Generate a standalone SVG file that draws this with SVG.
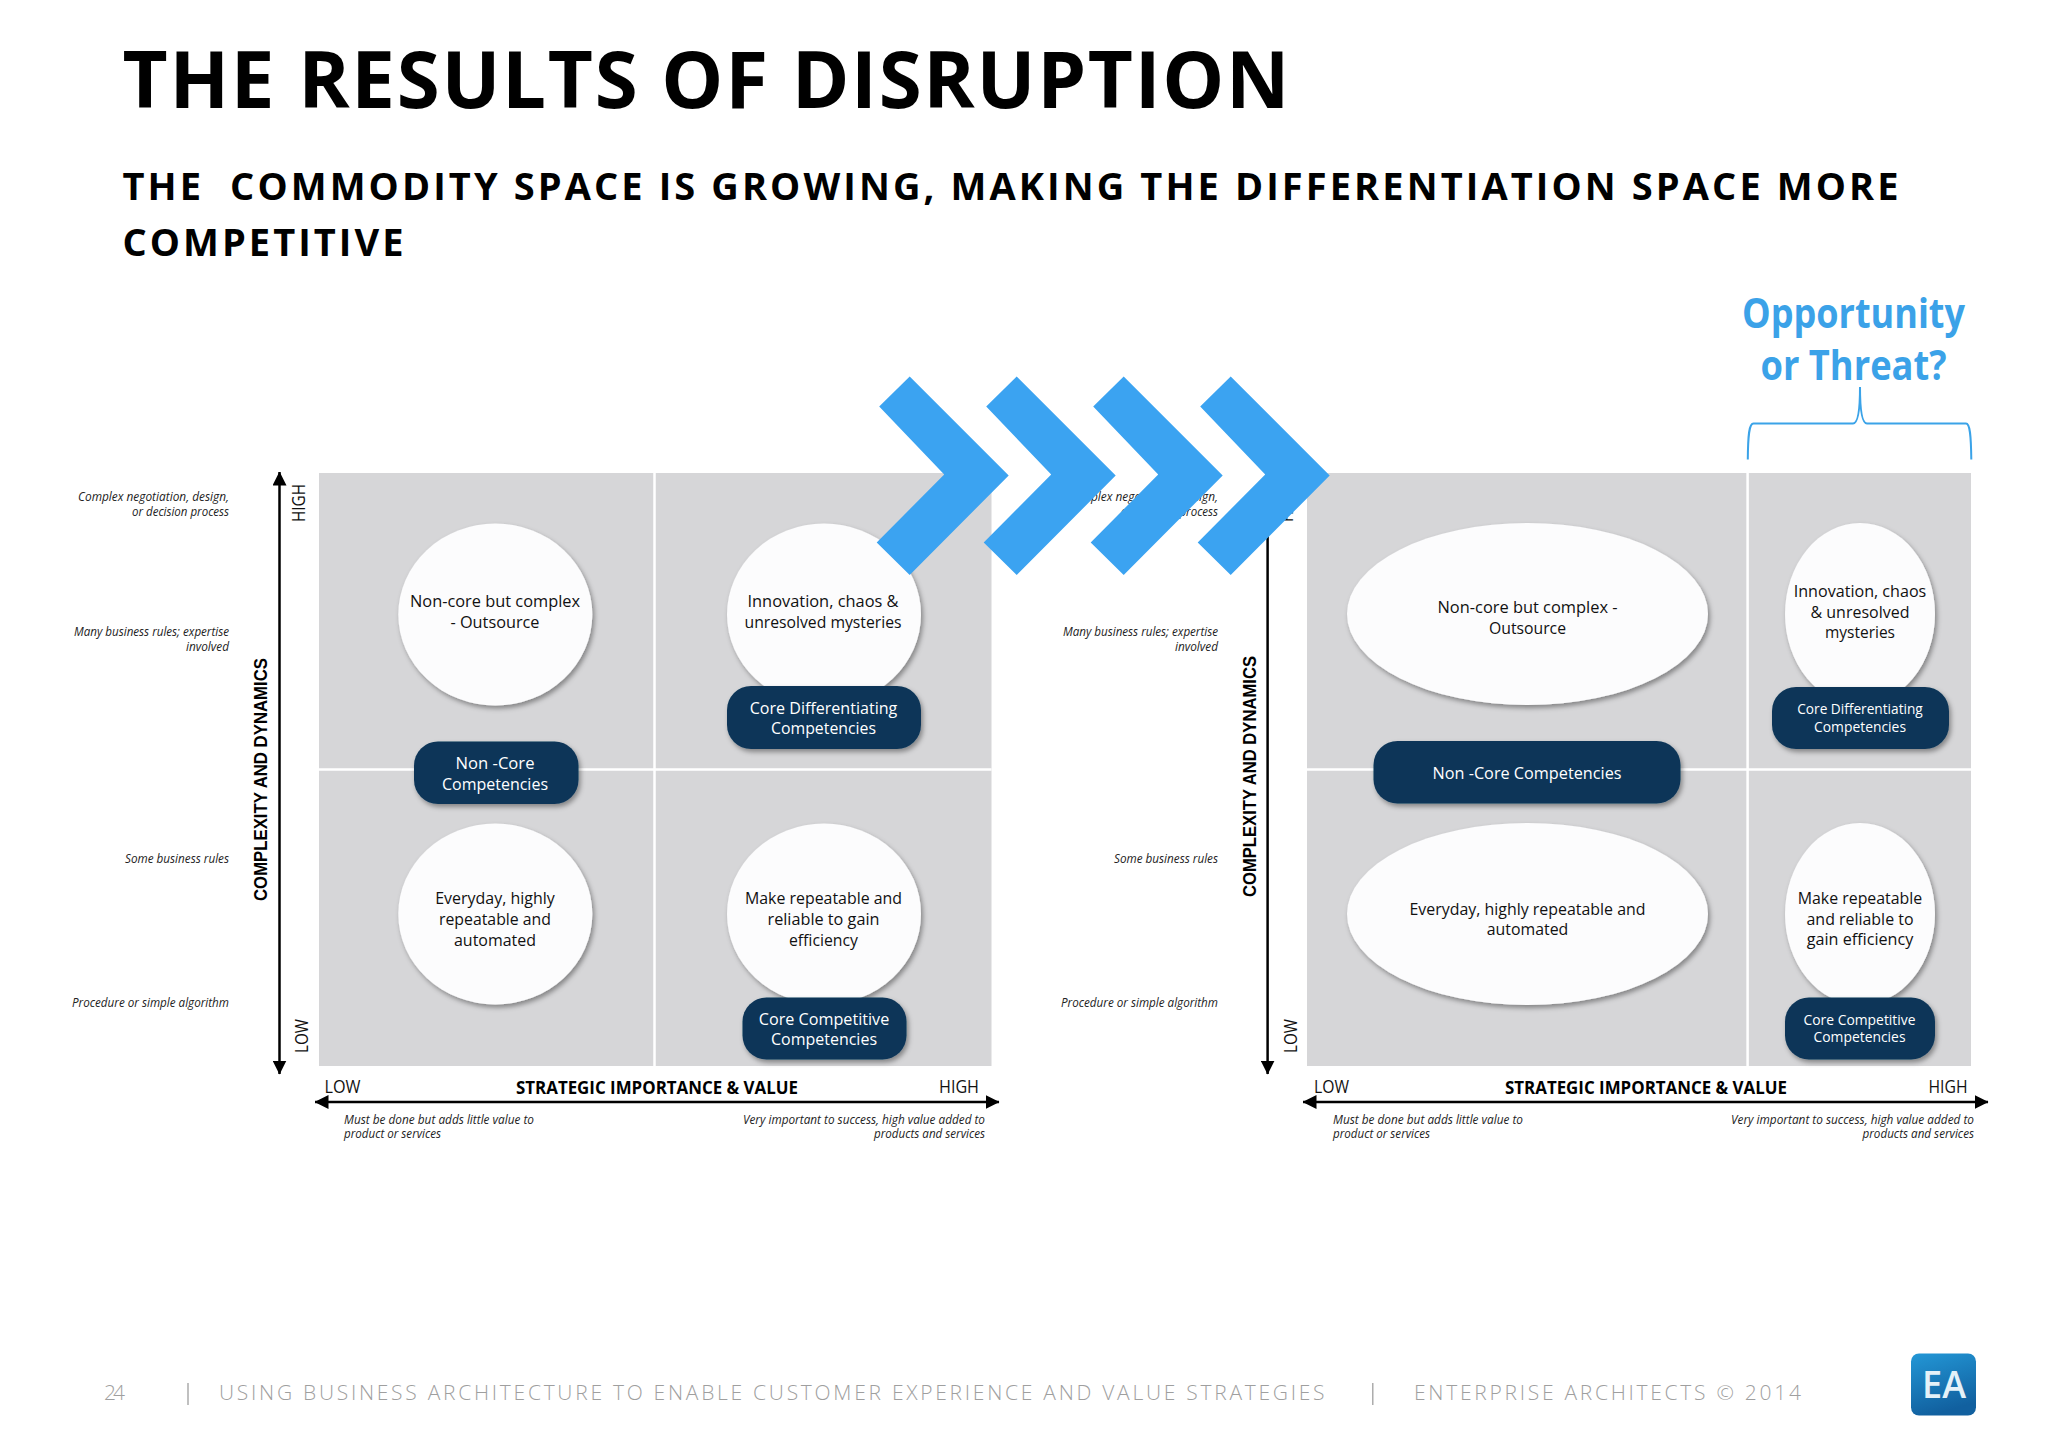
<svg xmlns="http://www.w3.org/2000/svg" width="2048" height="1448" viewBox="0 0 2048 1448">
<style>
text{font-family:"Open Sans","Noto Sans","Liberation Sans",sans-serif}
.t{font-weight:700;fill:#000}
.cell{fill:#d6d6d8}
.div{stroke:#fff;stroke-width:2.5;fill:none}
.el{fill:#fcfcfd;filter:url(#sh)}
.pill{fill:#0c3658;filter:url(#sh)}
.d{font-size:17px;fill:#111;text-anchor:middle}
.w{font-size:17px;fill:#fff;text-anchor:middle}
.ws{font-size:15px;fill:#fff;text-anchor:middle}
.i{font-size:12.5px;font-style:italic;fill:#222}
.e{text-anchor:end}
.ax{font-size:18px;fill:#111}
.b{font-family:"Liberation Sans",sans-serif;font-weight:700;fill:#000;font-size:19px}
.s{font-weight:700;fill:#000;font-size:18px}
.ar{stroke:#000;fill:none;stroke-width:2.5}
.ch{fill:#3ba3f1}
.op{font-size:41px;font-weight:700;fill:#3ba2e8;text-anchor:middle}
.f{font-size:21px;font-weight:300;fill:#9f9f9f}
</style>
<defs>
<filter id="sh" x="-15%" y="-15%" width="130%" height="130%"><feDropShadow dx="2" dy="3" stdDeviation="2.4" flood-color="#000" flood-opacity="0.38"/></filter>
<marker id="ah" viewBox="0 0 14 14" refX="13.5" refY="7" markerWidth="14" markerHeight="14" markerUnits="userSpaceOnUse" orient="auto-start-reverse"><path d="M0 0L14 7L0 14Z" fill="#000"/></marker>
<linearGradient id="lg" x1="0" y1="0" x2="0.3" y2="1"><stop offset="0" stop-color="#2397d6"/><stop offset="1" stop-color="#11609f"/></linearGradient>
<path id="chev" class="ch" d="M0 376.5L99 475.5L0 575L-33 542.5L34.5 474.5L-30.5 406.5Z"/>
</defs>
<rect width="2048" height="1448" fill="#fff"/>

<g id="title">
<text class="t" x="122.5" y="107.5" font-size="78" textLength="1167" lengthAdjust="spacing">THE RESULTS OF DISRUPTION</text>
<text class="t" x="122.5" y="199.5" font-size="38" textLength="1776" lengthAdjust="spacing" xml:space="preserve">THE  COMMODITY SPACE IS GROWING, MAKING THE DIFFERENTIATION SPACE MORE</text>
<text class="t" x="122.5" y="255.5" font-size="38" textLength="281" lengthAdjust="spacing">COMPETITIVE</text>
</g>

<g id="left-grid">
<rect class="cell" x="319" y="473" width="672.5" height="593"/>
<path class="div" d="M654.5 473V1066M319 769.5H991.5"/>
</g>
<g id="right-grid">
<rect class="cell" x="1307" y="473" width="664" height="593"/>
<path class="div" d="M1747.6 473V1066M1307 769.5H1971"/>
</g>

<g id="left-labels">
<text class="i e" x="229" y="501" textLength="151" lengthAdjust="spacingAndGlyphs">Complex negotiation, design,</text>
<text class="i e" x="229" y="515.5" textLength="97" lengthAdjust="spacingAndGlyphs">or decision process</text>
<text class="i e" x="229" y="636" textLength="155" lengthAdjust="spacingAndGlyphs">Many business rules; expertise</text>
<text class="i e" x="229" y="650.5" textLength="43" lengthAdjust="spacingAndGlyphs">involved</text>
<text class="i e" x="229" y="862.5" textLength="104" lengthAdjust="spacingAndGlyphs">Some business rules</text>
<text class="i e" x="229" y="1006.5" textLength="157" lengthAdjust="spacingAndGlyphs">Procedure or simple algorithm</text>
<text class="b" transform="translate(266.5 901) rotate(-90)" textLength="243" lengthAdjust="spacingAndGlyphs">COMPLEXITY AND DYNAMICS</text>
<text class="ax" transform="translate(305 522) rotate(-90)" textLength="38" lengthAdjust="spacingAndGlyphs">HIGH</text>
<text class="ax" transform="translate(308 1053) rotate(-90)" textLength="34" lengthAdjust="spacingAndGlyphs">LOW</text>
<text class="ax" x="324.5" y="1092.5" textLength="36" lengthAdjust="spacingAndGlyphs">LOW</text>
<text class="s" x="516" y="1093.5" textLength="282" lengthAdjust="spacingAndGlyphs">STRATEGIC IMPORTANCE &amp; VALUE</text>
<text class="ax" x="939" y="1092.5" textLength="40" lengthAdjust="spacingAndGlyphs">HIGH</text>
<text class="i" x="344" y="1123.5" textLength="190" lengthAdjust="spacingAndGlyphs">Must be done but adds little value to</text>
<text class="i" x="344" y="1138" textLength="97" lengthAdjust="spacingAndGlyphs">product or services</text>
<text class="i e" x="985" y="1123.5" textLength="242" lengthAdjust="spacingAndGlyphs">Very important to success, high value added to</text>
<text class="i e" x="985" y="1138" textLength="111" lengthAdjust="spacingAndGlyphs">products and services</text>
</g>
<g id="right-labels">
<text class="i e" x="1218" y="501" textLength="151" lengthAdjust="spacingAndGlyphs">Complex negotiation, design,</text>
<text class="i e" x="1218" y="515.5" textLength="97" lengthAdjust="spacingAndGlyphs">or decision process</text>
<text class="i e" x="1218" y="636" textLength="155" lengthAdjust="spacingAndGlyphs">Many business rules; expertise</text>
<text class="i e" x="1218" y="650.5" textLength="43" lengthAdjust="spacingAndGlyphs">involved</text>
<text class="i e" x="1218" y="862.5" textLength="104" lengthAdjust="spacingAndGlyphs">Some business rules</text>
<text class="i e" x="1218" y="1006.5" textLength="157" lengthAdjust="spacingAndGlyphs">Procedure or simple algorithm</text>
<text class="b" transform="translate(1255.5 897) rotate(-90)" textLength="241" lengthAdjust="spacingAndGlyphs">COMPLEXITY AND DYNAMICS</text>
<text class="ax" transform="translate(1293 522) rotate(-90)" textLength="38" lengthAdjust="spacingAndGlyphs">HIGH</text>
<text class="ax" transform="translate(1297 1053) rotate(-90)" textLength="34" lengthAdjust="spacingAndGlyphs">LOW</text>
<text class="ax" x="1314" y="1092.5" textLength="35" lengthAdjust="spacingAndGlyphs">LOW</text>
<text class="s" x="1505" y="1093.5" textLength="282" lengthAdjust="spacingAndGlyphs">STRATEGIC IMPORTANCE &amp; VALUE</text>
<text class="ax" x="1928.5" y="1092.5" textLength="39" lengthAdjust="spacingAndGlyphs">HIGH</text>
<text class="i" x="1333" y="1123.5" textLength="190" lengthAdjust="spacingAndGlyphs">Must be done but adds little value to</text>
<text class="i" x="1333" y="1138" textLength="97" lengthAdjust="spacingAndGlyphs">product or services</text>
<text class="i e" x="1974" y="1123.5" textLength="243" lengthAdjust="spacingAndGlyphs">Very important to success, high value added to</text>
<text class="i e" x="1974" y="1138" textLength="111.5" lengthAdjust="spacingAndGlyphs">products and services</text>
</g>

<g id="connectors">
<path class="ar" marker-start="url(#ah)" marker-end="url(#ah)" d="M279.5 472V1074"/>
<path class="ar" marker-start="url(#ah)" marker-end="url(#ah)" d="M1267.6 472V1074"/>
<path class="ar" marker-start="url(#ah)" marker-end="url(#ah)" d="M315 1102H999"/>
<path class="ar" marker-start="url(#ah)" marker-end="url(#ah)" d="M1303 1102H1988"/>
</g>

<g id="l-noncore-complex"><ellipse class="el" cx="495.3" cy="614.5" rx="97" ry="91"/>
<text class="d" x="495" y="607" textLength="170" lengthAdjust="spacingAndGlyphs">Non-core but complex</text>
<text class="d" x="495" y="627.5" textLength="89" lengthAdjust="spacingAndGlyphs">- Outsource</text></g>
<g id="l-innovation"><ellipse class="el" cx="824" cy="614.5" rx="97" ry="91"/>
<text class="d" x="823" y="607" textLength="151" lengthAdjust="spacingAndGlyphs">Innovation, chaos &amp;</text>
<text class="d" x="823" y="627.5" textLength="157" lengthAdjust="spacingAndGlyphs">unresolved mysteries</text></g>
<g id="l-everyday"><ellipse class="el" cx="495.3" cy="914" rx="97" ry="90.5"/>
<text class="d" x="495" y="904" textLength="119.5" lengthAdjust="spacingAndGlyphs">Everyday, highly</text>
<text class="d" x="495" y="924.5" textLength="112" lengthAdjust="spacingAndGlyphs">repeatable and</text>
<text class="d" x="495" y="945.5" textLength="82" lengthAdjust="spacingAndGlyphs">automated</text></g>
<g id="l-repeatable"><ellipse class="el" cx="824" cy="914" rx="97" ry="90.5"/>
<text class="d" x="823.5" y="904" textLength="157" lengthAdjust="spacingAndGlyphs">Make repeatable and</text>
<text class="d" x="823.5" y="924.5" textLength="112" lengthAdjust="spacingAndGlyphs">reliable to gain</text>
<text class="d" x="823.5" y="945.5" textLength="69" lengthAdjust="spacingAndGlyphs">efficiency</text></g>
<g id="l-pill-noncore"><rect class="pill" x="414" y="741.5" width="164.5" height="62.5" rx="24"/>
<text class="w" x="495" y="769" textLength="79" lengthAdjust="spacingAndGlyphs">Non -Core</text>
<text class="w" x="495" y="789.5" textLength="106" lengthAdjust="spacingAndGlyphs">Competencies</text></g>
<g id="l-pill-diff"><rect class="pill" x="727" y="686" width="194" height="63" rx="24"/>
<text class="w" x="823.5" y="713.5" textLength="147.5" lengthAdjust="spacingAndGlyphs">Core Differentiating</text>
<text class="w" x="823.5" y="734" textLength="105" lengthAdjust="spacingAndGlyphs">Competencies</text></g>
<g id="l-pill-comp"><rect class="pill" x="742.5" y="997.5" width="164" height="62" rx="24"/>
<text class="w" x="824" y="1024.5" textLength="130.5" lengthAdjust="spacingAndGlyphs">Core Competitive</text>
<text class="w" x="824" y="1045" textLength="106" lengthAdjust="spacingAndGlyphs">Competencies</text></g>

<g id="r-noncore-complex"><ellipse class="el" cx="1527.5" cy="614" rx="180.5" ry="91"/>
<text class="d" x="1527.5" y="612.5" textLength="180" lengthAdjust="spacingAndGlyphs">Non-core but complex -</text>
<text class="d" x="1527.5" y="633.5" textLength="77" lengthAdjust="spacingAndGlyphs">Outsource</text></g>
<g id="r-innovation"><ellipse class="el" cx="1860" cy="614" rx="75" ry="91"/>
<text class="d" x="1860" y="597" textLength="132.5" lengthAdjust="spacingAndGlyphs">Innovation, chaos</text>
<text class="d" x="1860" y="617.5" textLength="99" lengthAdjust="spacingAndGlyphs">&amp; unresolved</text>
<text class="d" x="1860" y="638" textLength="70" lengthAdjust="spacingAndGlyphs">mysteries</text></g>
<g id="r-everyday"><ellipse class="el" cx="1527.5" cy="914" rx="180.5" ry="91"/>
<text class="d" x="1527.5" y="914.5" textLength="236" lengthAdjust="spacingAndGlyphs">Everyday, highly repeatable and</text>
<text class="d" x="1527.5" y="934.5" textLength="81.5" lengthAdjust="spacingAndGlyphs">automated</text></g>
<g id="r-repeatable"><ellipse class="el" cx="1860" cy="914" rx="75" ry="91"/>
<text class="d" x="1860" y="904" textLength="124.5" lengthAdjust="spacingAndGlyphs">Make repeatable</text>
<text class="d" x="1860" y="924.5" textLength="107" lengthAdjust="spacingAndGlyphs">and reliable to</text>
<text class="d" x="1860" y="945" textLength="106.5" lengthAdjust="spacingAndGlyphs">gain efficiency</text></g>
<g id="r-pill-noncore"><rect class="pill" x="1373.5" y="741" width="307" height="62.5" rx="24"/>
<text class="w" x="1527" y="778.5" textLength="189" lengthAdjust="spacingAndGlyphs">Non -Core Competencies</text></g>
<g id="r-pill-diff"><rect class="pill" x="1772" y="687" width="177" height="62" rx="24"/>
<text class="ws" x="1860" y="714" textLength="125.5" lengthAdjust="spacingAndGlyphs">Core Differentiating</text>
<text class="ws" x="1860" y="732" textLength="92" lengthAdjust="spacingAndGlyphs">Competencies</text></g>
<g id="r-pill-comp"><rect class="pill" x="1785" y="997.5" width="150" height="62" rx="24"/>
<text class="ws" x="1859.5" y="1024.5" textLength="112" lengthAdjust="spacingAndGlyphs">Core Competitive</text>
<text class="ws" x="1859.5" y="1042" textLength="92" lengthAdjust="spacingAndGlyphs">Competencies</text></g>

<g id="chevrons">
<use href="#chev" x="909.7"/>
<use href="#chev" x="1016.7"/>
<use href="#chev" x="1123.7"/>
<use href="#chev" x="1230.7"/>
</g>

<g id="callout">
<text class="op" x="1853.5" y="327.5" textLength="223" lengthAdjust="spacingAndGlyphs">Opportunity</text>
<text class="op" x="1853.5" y="380" textLength="186" lengthAdjust="spacingAndGlyphs">or Threat?</text>
<path d="M1747.8 459.5C1748 435 1749 423.5 1753.5 423.5H1853C1858 423.5 1860 410 1860 387C1860 410 1862 423.5 1867 423.5H1966C1970 423.5 1971 435 1971.3 459.5" fill="none" stroke="#3ba3e8" stroke-width="2"/>
</g>

<g id="footer">
<text class="f" x="104" y="1400" textLength="21" lengthAdjust="spacing">24</text>
<path d="M188 1383V1405M1372.8 1383V1405" stroke="#9f9f9f" stroke-width="1.3"/>
<text class="f" x="219" y="1400" textLength="1105.5" lengthAdjust="spacing">USING BUSINESS ARCHITECTURE TO ENABLE CUSTOMER EXPERIENCE AND VALUE STRATEGIES</text>
<text class="f" x="1414" y="1400" textLength="387" lengthAdjust="spacing">ENTERPRISE ARCHITECTS © 2014</text>
</g>

<g id="logo">
<rect x="1911" y="1353.5" width="65" height="62" rx="8" fill="url(#lg)"/>
<text x="1944" y="1398" text-anchor="middle" font-size="38" font-weight="600" fill="#e4f1f8" textLength="44" lengthAdjust="spacingAndGlyphs">EA</text>
</g>
</svg>
